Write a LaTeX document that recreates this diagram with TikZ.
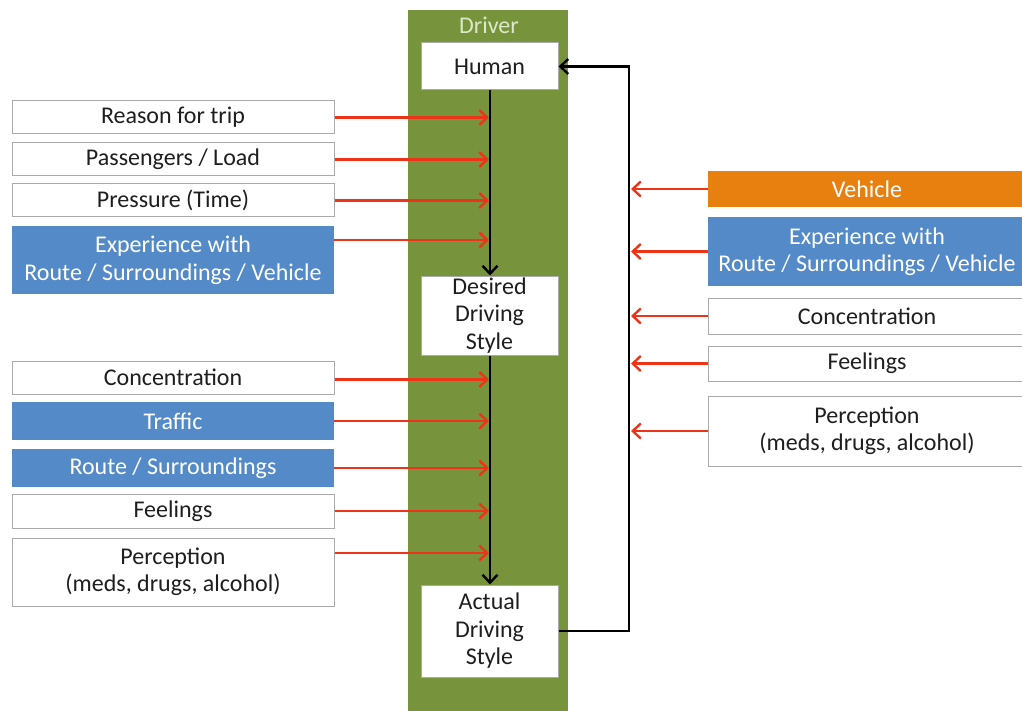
\documentclass[tikz,border=0pt]{standalone}
\usepackage{fontspec}
\setmainfont{Carlito}
\usetikzlibrary{arrows.meta}
\definecolor{olive}{RGB}{119,147,60}
\definecolor{drvtxt}{RGB}{220,232,200}
\definecolor{bluebox}{RGB}{84,138,200}
\definecolor{orangebox}{RGB}{232,128,16}
\definecolor{redarrow}{RGB}{238,52,24}
\definecolor{boxline}{RGB}{170,170,170}
\definecolor{txt}{RGB}{30,30,30}
\tikzset{
  every node/.style={font=\fontsize{24}{27.5}\selectfont, text=txt, align=center, inner sep=0pt},
  wbox/.style={draw=boxline, line width=1pt, fill=white, minimum width=#1},
  bbox/.style={fill=bluebox, text=white, minimum width=#1},
  obox/.style={fill=orangebox, text=white, minimum width=#1},
  redarr/.style={draw=redarrow, line width=2.6pt, -{Straight Barb[length=8pt,width=15pt,line width=2.4pt]}},
  blkarr/.style={draw=black, line width=2.6pt, -{Straight Barb[length=8pt,width=15pt,line width=2.4pt]}},
}
\begin{document}
\begin{tikzpicture}[x=1pt,y=-1pt]
\useasboundingbox (0,0) rectangle (1022,711);
% green driver column
\fill[olive] (408,10) rectangle (568,711);
\node[text=drvtxt] (driver) at (489,25) {Driver};
% driver nodes
\node[wbox=137pt, minimum height=47pt] (human) at (489.5,66.5) {Human};
\node[wbox=137pt, minimum height=79pt] (desired) at (489.5,315.5) {Desired\\Driving\\Style};
\node[wbox=137pt, minimum height=92pt] (actual) at (489.5,631) {Actual\\Driving\\Style};
\coordinate (spine) at (490,0);
\coordinate (fb) at (629,0);
% left boxes
\node[wbox=322pt, minimum height=33pt] (l1) at (173,117.5) {Reason for trip};
\node[wbox=322pt, minimum height=33pt] (l2) at (173,159.5) {Passengers / Load};
\node[wbox=322pt, minimum height=33pt] (l3) at (173,200.5) {Pressure (Time)};
\node[bbox=322pt, minimum height=68pt] (l4) at (173,260) {Experience with\\Route / Surroundings / Vehicle};
\node[wbox=322pt, minimum height=33pt] (l5) at (173,377.5) {Concentration};
\node[bbox=322pt, minimum height=38pt] (l6) at (173,421) {Traffic};
\node[bbox=322pt, minimum height=38pt] (l7) at (173,468) {Route / Surroundings};
\node[wbox=322pt, minimum height=34pt] (l8) at (173,511) {Feelings};
\node[wbox=322pt, minimum height=68pt] (l9) at (173,572) {Perception\\(meds, drugs, alcohol)};
% right boxes
\node[obox=318pt, minimum height=36pt] (r1) at (867,189) {Vehicle};
\node[bbox=318pt, minimum height=69pt] (r2) at (867,251.5) {Experience with\\Route / Surroundings / Vehicle};
\node[wbox=318pt, minimum height=36pt] (r3) at (867,316) {Concentration};
\node[wbox=318pt, minimum height=35pt] (r4) at (867,363.5) {Feelings};
\node[wbox=318pt, minimum height=70pt] (r5) at (867,431) {Perception\\(meds, drugs, alcohol)};
% spine arrows
\draw[blkarr] (human.south -| spine) -- (desired.north -| spine);
\draw[blkarr] (desired.south -| spine) -- (actual.north -| spine);
% feedback loop
\draw[blkarr] (actual.east) -- (actual.east -| fb) -- (human.east -| fb) -- (human.east);
% left red arrows
\draw[redarr] (l1.east) -- ([xshift=-1pt]l1.east -| spine);
\draw[redarr] (l2.east) -- ([xshift=-1pt]l2.east -| spine);
\draw[redarr] (l3.east) -- ([xshift=-1pt]l3.east -| spine);
\draw[redarr] ([yshift=20pt]l4.east) -- ([xshift=-1pt,yshift=20pt]l4.east -| spine);
\draw[redarr] ([yshift=-2pt]l5.east) -- ([xshift=-1pt,yshift=-2pt]l5.east -| spine);
\draw[redarr] (l6.east) -- ([xshift=-1pt]l6.east -| spine);
\draw[redarr] (l7.east) -- ([xshift=-1pt]l7.east -| spine);
\draw[redarr] (l8.east) -- ([xshift=-1pt]l8.east -| spine);
\draw[redarr] ([yshift=19pt]l9.east) -- ([xshift=-1pt,yshift=19pt]l9.east -| spine);
% right red arrows
\draw[redarr] (r1.west) -- ([xshift=2pt]r1.west -| fb);
\draw[redarr] (r2.west) -- ([xshift=2pt]r2.west -| fb);
\draw[redarr] (r3.west) -- ([xshift=2pt]r3.west -| fb);
\draw[redarr] (r4.west) -- ([xshift=2pt]r4.west -| fb);
\draw[redarr] (r5.west) -- ([xshift=2pt]r5.west -| fb);
\end{tikzpicture}
\end{document}
